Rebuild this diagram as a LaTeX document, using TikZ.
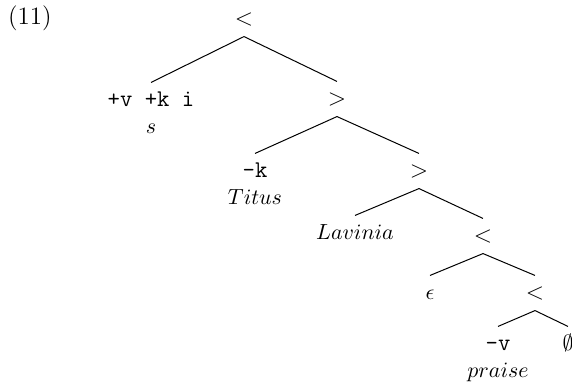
\documentclass[tikz,border=0pt]{standalone}
\usepackage{tikz}
\usetikzlibrary{positioning}

\begin{document}
\begin{tikzpicture}[
    x=0.5pt, y=-0.5pt,
    cat/.style={inner sep=3.33pt, text height=8.5pt, text depth=2pt, font=\fontsize{12}{14}\selectfont},
    feat/.style={cat, font=\fontsize{12}{14}\selectfont\ttfamily},
    word/.style={cat, font=\fontsize{11}{13}\selectfont},
    branch/.style={line width=0.5pt},
    node distance=-4pt
]
    \useasboundingbox (0,0) rectangle (572,387);

    % Example number
    \node[font=\fontsize{12.5}{14}\selectfont] (exnum) at (30,18) {(11)};

    % Root
    \node[cat] (root) at (244,19) {$<$};

    % Left daughter of the root
    \node[feat] (vki) at (151,100) {+v +k i};
    \node[word, below=of vki] (s) {$s$};

    % Right daughter of the root
    \node[cat] (gtA) at (337,99) {$>$};

    % -k Titus
    \node[feat] (k) at (255,171) {-k};
    \node[word, below=of k] (titus) {$Titus$};

    % Second >
    \node[cat] (gtB) at (419,171) {$>$};

    % Lavinia
    \node[word] (lavinia) at (355,233) {$Lavinia$};

    % Lower <
    \node[cat] (ltA) at (483,236) {$<$};

    % epsilon
    \node[word] (eps) at (430,293) {$\epsilon$};

    % Lowest <
    \node[cat] (ltB) at (535,293) {$<$};

    % -v praise
    \node[feat] (v) at (498,344) {-v};
    \node[word, below=of v] (praise) {$praise$};

    % Empty
    \node[word] (empty) at (568,344) {$\emptyset$};

    % Branches
    \draw[branch] (root.south) -- (vki.north);
    \draw[branch] (root.south) -- (gtA.north);
    \draw[branch] (gtA.south) -- (k.north);
    \draw[branch] (gtA.south) -- (gtB.north);
    \draw[branch] (gtB.south) -- (lavinia.north);
    \draw[branch] (gtB.south) -- (ltA.north);
    \draw[branch] (ltA.south) -- (eps.north);
    \draw[branch] (ltA.south) -- (ltB.north);
    \draw[branch] (ltB.south) -- (v.north);
    \draw[branch] (ltB.south) -- (empty.north);
\end{tikzpicture}
\end{document}
